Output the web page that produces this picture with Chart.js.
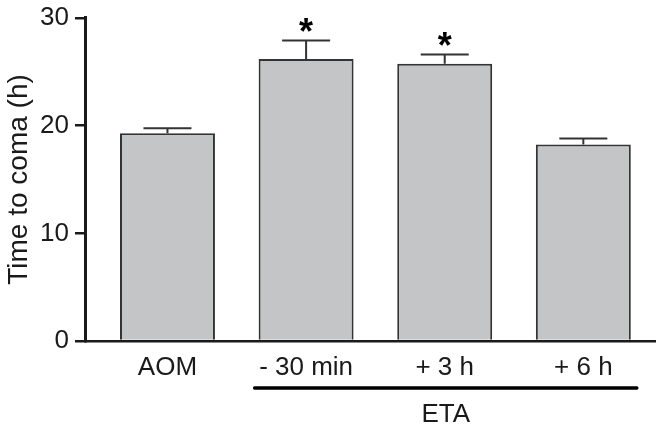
<!DOCTYPE html>
<html>
<head>
<meta charset="utf-8">
<script src="https://cdn.jsdelivr.net/npm/chart.js@4"></script>
<style>
  body { margin: 0; background: #fff; }
  #wrap { width: 662px; height: 429px; }
</style>
</head>
<body>
<div id="wrap"><canvas id="chart" width="662" height="429"></canvas></div>
<script>
const categories = ['AOM', '- 30 min', '+ 3 h', '+ 6 h'];
const means = [19.3, 26.2, 25.75, 18.25];
const sem = [0.45, 1.7, 0.85, 0.55];
const marks = ['', '*', '*', ''];
const yTicks = [0, 10, 20, 30];
const groupLabel = 'ETA';
const groupFrom = 1, groupTo = 3;

const FONT = "'Liberation Sans', Arial, sans-serif";
const INK = '#1a1a1a';

// error bars, stars and the ETA bracket
const extras = {
  id: 'extras',
  afterDatasetsDraw(chart) {
    const ctx = chart.ctx;
    const y = chart.scales.y;
    const bars = chart.getDatasetMeta(0).data;
    ctx.save();
    ctx.strokeStyle = '#333';
    ctx.lineWidth = 2;
    bars.forEach((bar, i) => {
      const top = y.getPixelForValue(means[i]);
      const errTop = y.getPixelForValue(means[i] + sem[i]);
      ctx.beginPath();
      ctx.moveTo(bar.x, top);
      ctx.lineTo(bar.x, errTop);
      ctx.moveTo(bar.x - 24, errTop);
      ctx.lineTo(bar.x + 24, errTop);
      ctx.stroke();
      if (marks[i]) {
        ctx.fillStyle = '#000';
        ctx.font = 'bold 36px ' + FONT;
        ctx.textAlign = 'center';
        ctx.textBaseline = 'middle';
        ctx.fillText(marks[i], bar.x, errTop - 7);
      }
    });
    const a = bars[groupFrom], b = bars[groupTo];
    const x1 = a.x - a.width / 2 - 4;
    const x2 = b.x + b.width / 2 + 6;
    ctx.strokeStyle = '#000';
    ctx.lineWidth = 3.5;
    ctx.lineCap = 'round';
    ctx.beginPath();
    ctx.moveTo(x1, 388);
    ctx.lineTo(x2, 388);
    ctx.stroke();
    ctx.fillStyle = INK;
    ctx.font = '26px ' + FONT;
    ctx.textAlign = 'center';
    ctx.textBaseline = 'alphabetic';
    ctx.fillText(groupLabel, (x1 + x2) / 2, 422);
    ctx.restore();
  }
};

new Chart(document.getElementById('chart'), {
  type: 'bar',
  data: {
    datasets: [{
      data: means.map((v, i) => ({ x: i, y: v })),
      backgroundColor: '#c4c5c7',
      borderColor: '#333',
      borderWidth: 2,
      barPercentage: 0.685,
      categoryPercentage: 1
    }]
  },
  options: {
    responsive: false,
    animation: false,
    layout: { padding: { top: 0, right: 7, left: 0, bottom: 0 } },
    plugins: { legend: { display: false }, tooltip: { enabled: false } },
    scales: {
      x: {
        type: 'linear',
        offset: false,
        min: -0.595,
        max: 3.517,
        afterBuildTicks: axis => { axis.ticks = categories.map((c, i) => ({ value: i })); },
        afterFit: axis => { axis.height = 88; },
        grid: { display: false, offset: false },
        border: { display: true, color: INK, width: 2.5 },
        ticks: {
          autoSkip: false,
          maxRotation: 0,
          padding: 3,
          color: INK,
          font: { family: FONT, size: 26 },
          callback: v => categories[v]
        }
      },
      y: {
        min: 0,
        max: 30,
        afterBuildTicks: axis => { axis.ticks = yTicks.map(v => ({ value: v })); },
        afterFit: axis => { axis.width = 85; },
        grid: { drawOnChartArea: false, drawTicks: true, tickLength: 10, color: INK, lineWidth: 2.5 },
        border: { display: true, color: INK, width: 3 },
        ticks: {
          padding: 6,
          color: INK,
          font: { family: FONT, size: 26, lineHeight: 0.923 }
        },
        title: {
          display: true,
          text: 'Time to coma (h)',
          color: INK,
          font: { family: FONT, size: 28 },
          padding: { top: 2, bottom: 0 }
        }
      }
    }
  },
  plugins: [extras]
});
</script>
</body>
</html>
